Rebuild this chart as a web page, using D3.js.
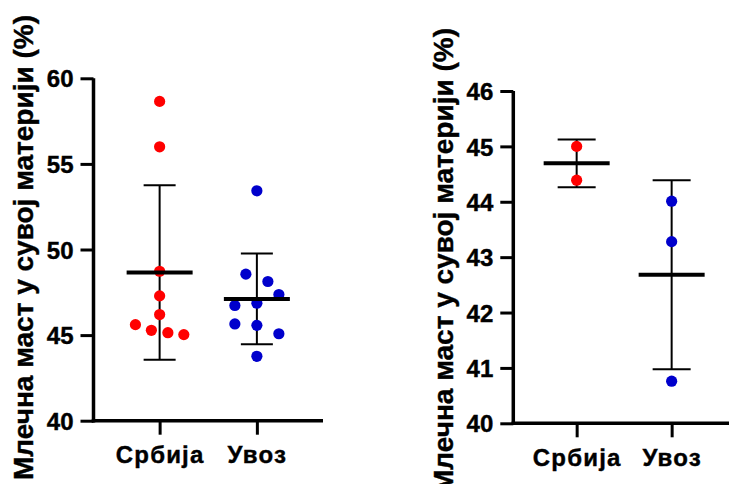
<!DOCTYPE html>
<html>
<head>
<meta charset="utf-8">
<script src="https://cdn.jsdelivr.net/npm/d3@7/dist/d3.min.js"></script>
<style>
  html, body { margin: 0; padding: 0; background: #fff; }
  svg { display: block; }
</style>
</head>
<body>
<svg id="chart" width="729" height="484"></svg>
<script>
// ---------- data ----------
const categories = ["Србија", "Увоз"];
const yLabel = "Млечна маст у сувој материји (%)";

// Left panel
const leftSrbija = [58.65, 56.0, 48.73, 47.29, 46.2, 45.61, 45.28, 45.14, 45.03];
const leftSrbijaLane = [0, 0, 0, 0, 0, -2.2, -0.75, 0.75, 2.2];
const leftUvoz = [53.43, 48.56, 48.13, 47.37, 46.73, 46.86, 45.65, 45.57, 45.08, 43.76];
const leftUvozLane = [0, -1, 1, 2, -2, 0, -2, 0, 2, 0];
const leftTicks = [40, 45, 50, 55, 60];

// Right panel
const rightSrbija = [45.0, 44.39];
const rightSrbijaLane = [0, 0];
const rightUvoz = [44.01, 43.28, 40.76];
const rightUvozLane = [0, 0, 0];
const rightTicks = [40, 41, 42, 43, 44, 45, 46];

const colors = ["#ff0000", "#0000cc"];

// ---------- drawing ----------
const FONT = "'Liberation Sans', Arial, Helvetica, sans-serif";
const svg = d3.select("#chart");

function styleText(sel, size, spacing) {
  sel.style("font-family", FONT).style("font-weight", "700").style("font-size", size + "px")
     .style("fill", "#000").style("stroke", "#000").style("stroke-width", "0.4px")
     .style("letter-spacing", (spacing || 0) + "px");
}

function panel(cfg) {
  const g = svg.append("g");
  const y = d3.scaleLinear().domain(cfg.yDomain).range([cfg.yBottom, cfg.yTop]);
  const x = d3.scalePoint().domain(categories).range([cfg.xLeft, cfg.xRight]).padding(cfg.xPad);

  // y axis
  const yAxis = d3.axisLeft(y).tickValues(cfg.ticks).tickSize(13).tickPadding(7).tickFormat(d3.format("d"));
  const ya = g.append("g").attr("transform", `translate(${cfg.xLeft},0)`).call(yAxis);
  ya.attr("font-family", null).attr("font-size", null);
  ya.select(".domain").attr("stroke", "#000").attr("stroke-width", 3.5)
    .attr("d", `M0,${cfg.yBottom + 1.75}V${cfg.yTop}`);
  ya.selectAll(".tick line").attr("stroke", "#000").attr("stroke-width", 3);
  ya.selectAll(".tick text").call(styleText, 24, 0).attr("dy", "0.36em");

  // x axis
  const xAxis = d3.axisBottom(x).tickSize(14).tickPadding(10);
  const xa = g.append("g").attr("transform", `translate(0,${cfg.yBottom})`).call(xAxis);
  xa.attr("font-family", null).attr("font-size", null);
  xa.select(".domain").attr("stroke", "#000").attr("stroke-width", 3.5)
    .attr("d", `M${cfg.xLeft - 1.75},0H${cfg.xRight}`);
  xa.selectAll(".tick line").attr("stroke", "#000").attr("stroke-width", 3);
  xa.selectAll(".tick text").call(styleText, 24, 1.2).attr("y", 0).attr("dy", 0)
    .attr("transform", "translate(0,42.5)");

  // y label
  g.append("text")
    .attr("transform", `translate(${cfg.labelX},${cfg.labelTop}) rotate(-90)`)
    .attr("text-anchor", "end")
    .call(styleText, 28, 0)
    .text(yLabel);

  // groups
  cfg.groups.forEach((grp, i) => {
    const cx = x(categories[i]);
    const mean = d3.mean(grp.values);
    const sd = d3.deviation(grp.values);
    const gg = g.append("g");
    // error bar
    gg.append("line").attr("x1", cx).attr("x2", cx).attr("y1", y(mean + sd)).attr("y2", y(mean - sd))
      .attr("stroke", "#000").attr("stroke-width", 2);
    [mean + sd, mean - sd].forEach(v => {
      gg.append("line").attr("x1", cx - cfg.capHalf).attr("x2", cx + cfg.capHalf)
        .attr("y1", y(v)).attr("y2", y(v)).attr("stroke", "#000").attr("stroke-width", 2);
    });
    // points
    gg.selectAll("circle").data(grp.values).join("circle")
      .attr("cx", (d, j) => cx + grp.lanes[j] * 11)
      .attr("cy", d => y(d))
      .attr("r", 5.6)
      .attr("fill", colors[i]);
    // mean line
    gg.append("line").attr("x1", cx - 33).attr("x2", cx + 33).attr("y1", y(mean)).attr("y2", y(mean))
      .attr("stroke", "#000").attr("stroke-width", 4);
  });
}

panel({
  yDomain: [40, 60], yBottom: 420.7, yTop: 78.3,
  xLeft: 93.5, xRight: 323, xPad: 0.68,
  ticks: leftTicks, labelX: 33, labelTop: 15, capHalf: 16,
  groups: [
    { values: leftSrbija, lanes: leftSrbijaLane },
    { values: leftUvoz, lanes: leftUvozLane }
  ]
});

panel({
  yDomain: [40, 46], yBottom: 423.3, yTop: 91,
  xLeft: 513.3, xRight: 735, xPad: 0.667,
  ticks: rightTicks, labelX: 453, labelTop: 28, capHalf: 19,
  groups: [
    { values: rightSrbija, lanes: rightSrbijaLane },
    { values: rightUvoz, lanes: rightUvozLane }
  ]
});
</script>
</body>
</html>
